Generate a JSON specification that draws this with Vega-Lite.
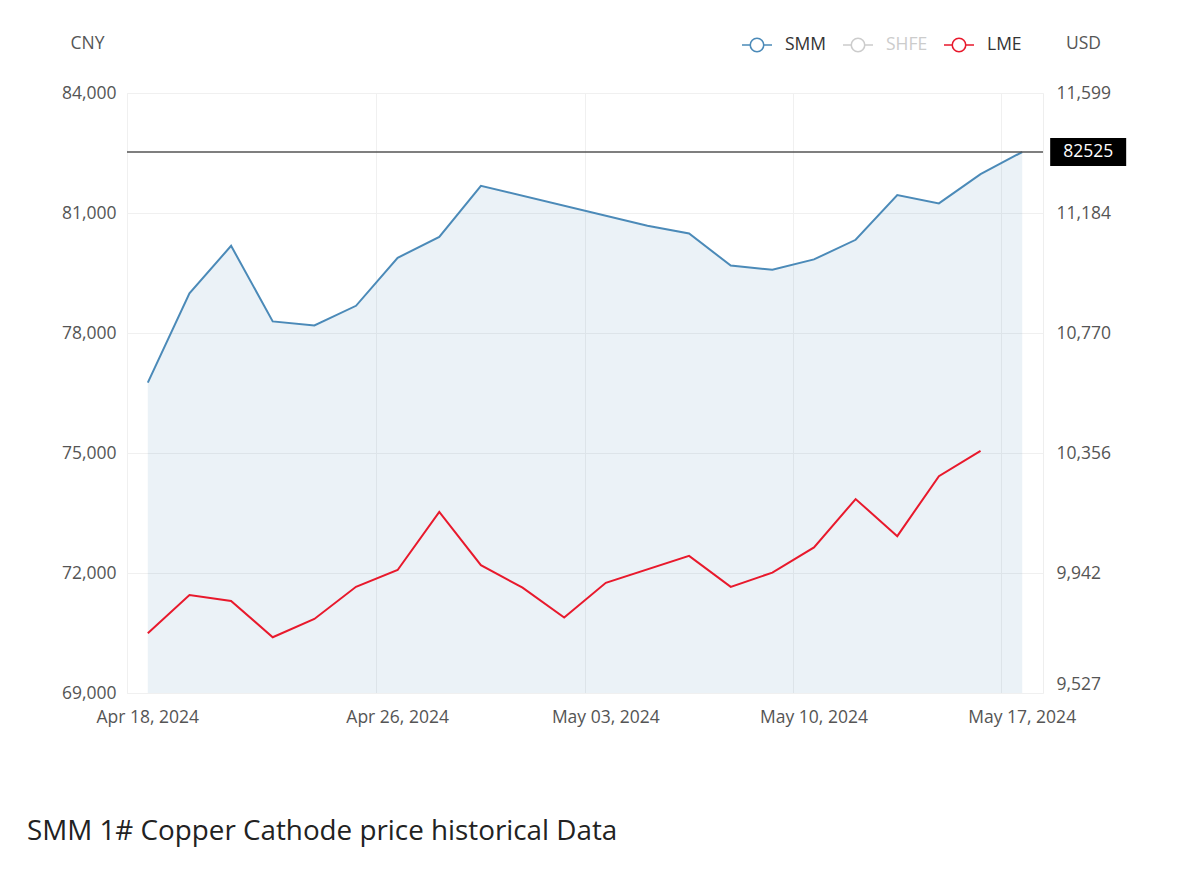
{
  "$schema": "https://vega.github.io/schema/vega-lite/v6.json",
  "width": 916,
  "height": 600,
  "autosize": {"type": "none"},
  "padding": {"left": 127, "top": 93, "right": 147, "bottom": 185},
  "background": "white",
  "config": {
    "font": "Open Sans",
    "view": {"stroke": "#eeeeee"}
  },
  "title": {
    "text": "SMM 1# Copper Cathode price historical Data",
    "orient": "bottom",
    "anchor": "start",
    "frame": "group",
    "offset": 92,
    "dx": -100,
    "fontSize": 27.8,
    "fontWeight": "normal",
    "font": "Open Sans",
    "color": "#222222"
  },
  "datasets": {
    "smm": [
      {"date": "Apr 18, 2024", "series": "SMM", "price": 76760},
      {"date": "Apr 19, 2024", "series": "SMM", "price": 78990},
      {"date": "Apr 22, 2024", "series": "SMM", "price": 80180},
      {"date": "Apr 23, 2024", "series": "SMM", "price": 78290},
      {"date": "Apr 24, 2024", "series": "SMM", "price": 78190},
      {"date": "Apr 25, 2024", "series": "SMM", "price": 78680},
      {"date": "Apr 26, 2024", "series": "SMM", "price": 79880},
      {"date": "Apr 29, 2024", "series": "SMM", "price": 80400},
      {"date": "Apr 30, 2024", "series": "SMM", "price": 81680},
      {"date": "May 06, 2024", "series": "SMM", "price": 80680},
      {"date": "May 07, 2024", "series": "SMM", "price": 80490},
      {"date": "May 08, 2024", "series": "SMM", "price": 79685},
      {"date": "May 09, 2024", "series": "SMM", "price": 79580},
      {"date": "May 10, 2024", "series": "SMM", "price": 79840},
      {"date": "May 13, 2024", "series": "SMM", "price": 80330},
      {"date": "May 14, 2024", "series": "SMM", "price": 81450},
      {"date": "May 15, 2024", "series": "SMM", "price": 81240},
      {"date": "May 16, 2024", "series": "SMM", "price": 81970},
      {"date": "May 17, 2024", "series": "SMM", "price": 82525}
    ],
    "lme": [
      {"date": "Apr 18, 2024", "series": "LME", "price": 9734},
      {"date": "Apr 19, 2024", "series": "LME", "price": 9866},
      {"date": "Apr 22, 2024", "series": "LME", "price": 9845},
      {"date": "Apr 23, 2024", "series": "LME", "price": 9720},
      {"date": "Apr 24, 2024", "series": "LME", "price": 9783},
      {"date": "Apr 25, 2024", "series": "LME", "price": 9894},
      {"date": "Apr 26, 2024", "series": "LME", "price": 9952},
      {"date": "Apr 29, 2024", "series": "LME", "price": 10153},
      {"date": "Apr 30, 2024", "series": "LME", "price": 9969},
      {"date": "May 01, 2024", "series": "LME", "price": 9891},
      {"date": "May 02, 2024", "series": "LME", "price": 9788},
      {"date": "May 03, 2024", "series": "LME", "price": 9908},
      {"date": "May 07, 2024", "series": "LME", "price": 10001},
      {"date": "May 08, 2024", "series": "LME", "price": 9894},
      {"date": "May 09, 2024", "series": "LME", "price": 9943},
      {"date": "May 10, 2024", "series": "LME", "price": 10030},
      {"date": "May 13, 2024", "series": "LME", "price": 10197},
      {"date": "May 14, 2024", "series": "LME", "price": 10069},
      {"date": "May 15, 2024", "series": "LME", "price": 10276},
      {"date": "May 16, 2024", "series": "LME", "price": 10363}
    ],
    "ref": [
      {"date": "May 17, 2024", "price": 82525, "label": "82525"}
    ]
  },
  "layer": [
    {
      "encoding": {
        "y": {
          "field": "price",
          "type": "quantitative",
          "scale": {"domain": [69000, 84000], "nice": false, "zero": false},
          "axis": {
            "orient": "left",
            "values": [69000, 72000, 75000, 78000, 81000, 84000],
            "format": ",.0f",
            "grid": true,
            "gridColor": "#f0f0f0",
            "domain": false,
            "ticks": false,
            "labelPadding": 11,
            "labelFontSize": 17.5,
            "labelColor": "#555555",
            "title": "CNY",
            "titleAngle": 0,
            "titleAlign": "center",
            "titleBaseline": "middle",
            "titleX": -40,
            "titleY": -50,
            "titleFontSize": 17.5,
            "titleFontWeight": "normal",
            "titleColor": "#555555"
          }
        }
      },
      "layer": [
        {
          "data": {"name": "smm"},
          "mark": {"type": "area", "color": "#4b8ab8", "opacity": 0.11},
          "encoding": {
            "x": {
              "field": "date", "type": "ordinal", "bandPosition": 0.5,
              "scale": {"type": "band", "paddingInner": 0, "paddingOuter": 0,
                "domain": ["Apr 18, 2024","Apr 19, 2024","Apr 22, 2024","Apr 23, 2024","Apr 24, 2024","Apr 25, 2024","Apr 26, 2024","Apr 29, 2024","Apr 30, 2024","May 01, 2024","May 02, 2024","May 03, 2024","May 06, 2024","May 07, 2024","May 08, 2024","May 09, 2024","May 10, 2024","May 13, 2024","May 14, 2024","May 15, 2024","May 16, 2024","May 17, 2024"]},
              "axis": {"values": ["Apr 18, 2024","Apr 26, 2024","May 03, 2024","May 10, 2024","May 17, 2024"], "bandPosition": 0, "grid": true, "gridColor": "#f0f0f0", "domain": false, "ticks": false, "labelPadding": 15, "labelAngle": 0, "labelFontSize": 17.5, "labelColor": "#555555", "title": null}
            },
            "y2": {"datum": 69000}
          }
        },
        {
          "data": {"name": "smm"},
          "mark": {"type": "line", "strokeWidth": 2},
          "encoding": {
            "x": {
              "field": "date", "type": "ordinal", "bandPosition": 0.5,
              "scale": {"type": "band", "paddingInner": 0, "paddingOuter": 0,
                "domain": ["Apr 18, 2024","Apr 19, 2024","Apr 22, 2024","Apr 23, 2024","Apr 24, 2024","Apr 25, 2024","Apr 26, 2024","Apr 29, 2024","Apr 30, 2024","May 01, 2024","May 02, 2024","May 03, 2024","May 06, 2024","May 07, 2024","May 08, 2024","May 09, 2024","May 10, 2024","May 13, 2024","May 14, 2024","May 15, 2024","May 16, 2024","May 17, 2024"]},
              "axis": {"values": ["Apr 18, 2024","Apr 26, 2024","May 03, 2024","May 10, 2024","May 17, 2024"], "bandPosition": 0, "grid": true, "gridColor": "#f0f0f0", "domain": false, "ticks": false, "labelPadding": 15, "labelAngle": 0, "labelFontSize": 17.5, "labelColor": "#555555", "title": null}
            },
            "color": {
              "field": "series", "type": "nominal",
              "scale": {"domain": ["SMM", "SHFE", "LME"], "range": ["#4b8ab8", "#cccccc", "#e8192c"]},
              "legend": {
                "orient": "none", "legendX": 614, "legendY": -64, "direction": "horizontal", "title": null,
                "symbolType": "M-1,0H-0.45M0.45,0H1M0.45,0A0.45,0.45,0,1,1,-0.45,0A0.45,0.45,0,1,1,0.45,0",
                "symbolSize": 900, "symbolStrokeWidth": 1.6, "symbolFillColor": "white",
                "labelFontSize": 17.5, "labelColor": "#333333", "labelOffset": 12, "columnPadding": 12, "padding": 0,
                "encode": {"labels": {"update": {"fill": {"signal": "datum.value === 'SHFE' ? '#cccccc' : '#333333'"}}}}
              }
            }
          }
        },
        {
          "data": {"name": "ref"},
          "mark": {"type": "rule", "color": "#555555", "strokeWidth": 1.5},
          "encoding": {}
        },
        {
          "data": {"name": "ref"},
          "mark": {"type": "point", "shape": "M-1,-0.37H1V0.37H-1Z", "size": 5776, "filled": true, "color": "#000000", "opacity": 1, "xOffset": 66},
          "encoding": {
            "x": {
              "field": "date", "type": "ordinal", "bandPosition": 0.5,
              "scale": {"type": "band", "paddingInner": 0, "paddingOuter": 0,
                "domain": ["Apr 18, 2024","Apr 19, 2024","Apr 22, 2024","Apr 23, 2024","Apr 24, 2024","Apr 25, 2024","Apr 26, 2024","Apr 29, 2024","Apr 30, 2024","May 01, 2024","May 02, 2024","May 03, 2024","May 06, 2024","May 07, 2024","May 08, 2024","May 09, 2024","May 10, 2024","May 13, 2024","May 14, 2024","May 15, 2024","May 16, 2024","May 17, 2024"]},
              "axis": {"values": ["Apr 18, 2024","Apr 26, 2024","May 03, 2024","May 10, 2024","May 17, 2024"], "bandPosition": 0, "grid": true, "gridColor": "#f0f0f0", "domain": false, "ticks": false, "labelPadding": 15, "labelAngle": 0, "labelFontSize": 17.5, "labelColor": "#555555", "title": null}
            }
          }
        },
        {
          "data": {"name": "ref"},
          "mark": {"type": "text", "color": "#ffffff", "fontSize": 17.5, "xOffset": 66, "align": "center", "baseline": "middle"},
          "encoding": {
            "x": {
              "field": "date", "type": "ordinal", "bandPosition": 0.5,
              "scale": {"type": "band", "paddingInner": 0, "paddingOuter": 0,
                "domain": ["Apr 18, 2024","Apr 19, 2024","Apr 22, 2024","Apr 23, 2024","Apr 24, 2024","Apr 25, 2024","Apr 26, 2024","Apr 29, 2024","Apr 30, 2024","May 01, 2024","May 02, 2024","May 03, 2024","May 06, 2024","May 07, 2024","May 08, 2024","May 09, 2024","May 10, 2024","May 13, 2024","May 14, 2024","May 15, 2024","May 16, 2024","May 17, 2024"]},
              "axis": {"values": ["Apr 18, 2024","Apr 26, 2024","May 03, 2024","May 10, 2024","May 17, 2024"], "bandPosition": 0, "grid": true, "gridColor": "#f0f0f0", "domain": false, "ticks": false, "labelPadding": 15, "labelAngle": 0, "labelFontSize": 17.5, "labelColor": "#555555", "title": null}
            },
            "text": {"field": "label", "type": "nominal"}
          }
        }
      ]
    },
    {
      "data": {"name": "lme"},
      "mark": {"type": "line", "strokeWidth": 2},
      "encoding": {
        "x": {
          "field": "date", "type": "ordinal", "bandPosition": 0.5,
          "scale": {"type": "band", "paddingInner": 0, "paddingOuter": 0,
            "domain": ["Apr 18, 2024","Apr 19, 2024","Apr 22, 2024","Apr 23, 2024","Apr 24, 2024","Apr 25, 2024","Apr 26, 2024","Apr 29, 2024","Apr 30, 2024","May 01, 2024","May 02, 2024","May 03, 2024","May 06, 2024","May 07, 2024","May 08, 2024","May 09, 2024","May 10, 2024","May 13, 2024","May 14, 2024","May 15, 2024","May 16, 2024","May 17, 2024"]},
          "axis": {"values": ["Apr 18, 2024","Apr 26, 2024","May 03, 2024","May 10, 2024","May 17, 2024"], "bandPosition": 0, "grid": true, "gridColor": "#f0f0f0", "domain": false, "ticks": false, "labelPadding": 15, "labelAngle": 0, "labelFontSize": 17.5, "labelColor": "#555555", "title": null}
        },
        "y": {
          "field": "price",
          "type": "quantitative",
          "scale": {"domain": [9527.49, 11598.69], "nice": false, "zero": false},
          "axis": {
            "orient": "right",
            "values": [9527.49, 9941.73, 10355.97, 10770.2, 11184.45, 11598.69],
            "format": ",.0f",
            "grid": false,
            "domain": false,
            "ticks": false,
            "labelPadding": 13,
            "labelFontSize": 17.5,
            "labelColor": "#555555",
            "labelBaseline": {"expr": "datum.value < 9600 ? 'bottom' : 'middle'"},
            "title": "USD",
            "titleAngle": 0,
            "titleAlign": "center",
            "titleBaseline": "middle",
            "titleX": 40,
            "titleY": -50,
            "titleFontSize": 17.5,
            "titleFontWeight": "normal",
            "titleColor": "#555555"
          }
        },
        "color": {
          "field": "series", "type": "nominal",
          "scale": {"domain": ["SMM", "SHFE", "LME"], "range": ["#4b8ab8", "#cccccc", "#e8192c"]},
          "legend": {
            "orient": "none", "legendX": 614, "legendY": -64, "direction": "horizontal", "title": null,
            "symbolType": "M-1,0H-0.45M0.45,0H1M0.45,0A0.45,0.45,0,1,1,-0.45,0A0.45,0.45,0,1,1,0.45,0",
            "symbolSize": 900, "symbolStrokeWidth": 1.6, "symbolFillColor": "white",
            "labelFontSize": 17.5, "labelColor": "#333333", "labelOffset": 12, "columnPadding": 12, "padding": 0,
            "encode": {"labels": {"update": {"fill": {"signal": "datum.value === 'SHFE' ? '#cccccc' : '#333333'"}}}}
          }
        }
      }
    }
  ],
  "resolve": {"scale": {"y": "independent"}}
}
